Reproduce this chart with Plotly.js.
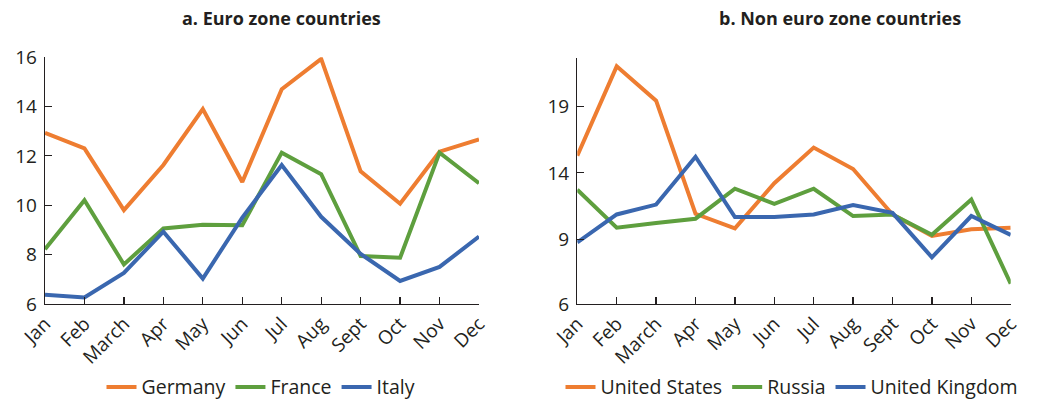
<!DOCTYPE html>
<html>
<head>
<meta charset="utf-8">
<script src="https://cdn.plot.ly/plotly-3.0.1.min.js"></script>
<style>html,body{margin:0;padding:0;background:#fff;}#chart{width:1040px;height:407px;}</style>
</head>
<body>
<div id="chart"></div>
<script>
const months = ["Jan","Feb","March","Apr","May","Jun","Jul","Aug","Sept","Oct","Nov","Dec"];

const germany = [12.93, 12.3, 9.8, 11.63, 13.9, 10.94, 14.7, 15.93, 11.37, 10.06, 12.17, 12.67];
const france  = [8.22, 10.2, 7.6, 9.06, 9.21, 9.19, 12.13, 11.26, 7.94, 7.87, 12.13, 10.89];
const italy   = [6.37, 6.26, 7.26, 8.93, 7.03, 9.5, 11.63, 9.53, 8.03, 6.93, 7.5, 8.73];

const unitedStates  = [15.29, 22.0, 19.42, 10.93, 9.84, 13.23, 15.9, 14.29, 10.88, 9.27, 9.77, 9.89];
const russia        = [12.73, 9.89, 10.24, 10.56, 12.81, 11.67, 12.81, 10.76, 10.88, 9.35, 12.0, 5.68];
const unitedKingdom = [8.78, 10.88, 11.62, 15.21, 10.68, 10.68, 10.88, 11.58, 11.0, 7.66, 10.76, 9.35];

const leftTickVals = [6, 8, 10, 12, 14, 16];
const leftTickText = ["6", "8", "10", "12", "14", "16"];
const rightTickVals = [4.16, 9, 14, 19];
const rightTickText = ["6", "9", "14", "19"];

const titleA = "a. Euro zone countries";
const titleB = "b. Non euro zone countries";

const ORANGE = "#EE7D31", GREEN = "#5E9F3E", BLUE = "#3A67AF";
const FONT = "Open Sans, Noto Sans, sans-serif";
const AX = "#231F20";

function tr(y, name, color, xa, ya, lg) {
  return {x: months, y: y, name: name, type: "scatter", mode: "lines",
    line: {color: color, width: 4}, xaxis: xa, yaxis: ya, legend: lg};
}

const data = [
  tr(germany, "Germany", ORANGE, "x", "y", "legend"),
  tr(france, "France", GREEN, "x", "y", "legend"),
  tr(italy, "Italy", BLUE, "x", "y", "legend"),
  tr(unitedStates, "United States", ORANGE, "x2", "y2", "legend2"),
  tr(russia, "Russia", GREEN, "x2", "y2", "legend2"),
  tr(unitedKingdom, "United Kingdom", BLUE, "x2", "y2", "legend2")
];

const H = 407, W = 1040;
const xcommon = {
  type: "category", range: [0, 11], showgrid: false, zeroline: false,
  showline: true, linecolor: AX, linewidth: 1.3,
  ticks: "inside", ticklen: 7, tickcolor: AX, tickwidth: 1.2,
  tickangle: -45, tickfont: {family: FONT, size: 19, color: "#231F20"},
  fixedrange: true
};
const ycommon = {
  showgrid: false, zeroline: false, showline: true, linecolor: AX, linewidth: 1.3,
  ticks: "inside", ticklen: 7, tickcolor: AX, tickwidth: 1.2,
  tickfont: {family: FONT, size: 19, color: "#231F20"}, tickmode: "array",
  ticklabelstandoff: 3, fixedrange: true
};

const layout = {
  width: W, height: H,
  margin: {l: 0, r: 0, t: 0, b: 0},
  paper_bgcolor: "#fff", plot_bgcolor: "rgba(0,0,0,0)",
  showlegend: true,
  xaxis: Object.assign({}, xcommon, {domain: [45/W, 479/W], anchor: "y"}),
  yaxis: Object.assign({}, ycommon, {domain: [1-308.5/H, 1-58/H], range: [6, 16],
    tickvals: leftTickVals, ticktext: leftTickText, anchor: "x"}),
  xaxis2: Object.assign({}, xcommon, {domain: [577.3/W, 1010.7/W], anchor: "y2"}),
  yaxis2: Object.assign({}, ycommon, {domain: [1-308.5/H, 1-58.8/H], range: [4.16, 22.63],
    tickvals: rightTickVals, ticktext: rightTickText, anchor: "x2"}),
  legend: {orientation: "h", x: 261/W, xanchor: "center", y: 1-393/H, yanchor: "middle",
    font: {family: FONT, size: 19.5, color: "#231F20"}, bgcolor: "rgba(0,0,0,0)"},
  legend2: {orientation: "h", x: 792/W, xanchor: "center", y: 1-393/H, yanchor: "middle",
    font: {family: FONT, size: 19.5, color: "#231F20"}, bgcolor: "rgba(0,0,0,0)"},
  annotations: [
    {text: "<b>" + titleA + "</b>", xref: "paper", yref: "paper", x: 281/W, y: 1-18/H,
     xanchor: "center", yanchor: "middle", showarrow: false,
     font: {family: FONT, size: 18, color: "#231F20"}},
    {text: "<b>" + titleB + "</b>", xref: "paper", yref: "paper", x: 840/W, y: 1-18/H,
     xanchor: "center", yanchor: "middle", showarrow: false,
     font: {family: FONT, size: 18, color: "#231F20"}}
  ]
};

Plotly.newPlot("chart", data, layout, {staticPlot: true, displayModeBar: false});
</script>
</body>
</html>
